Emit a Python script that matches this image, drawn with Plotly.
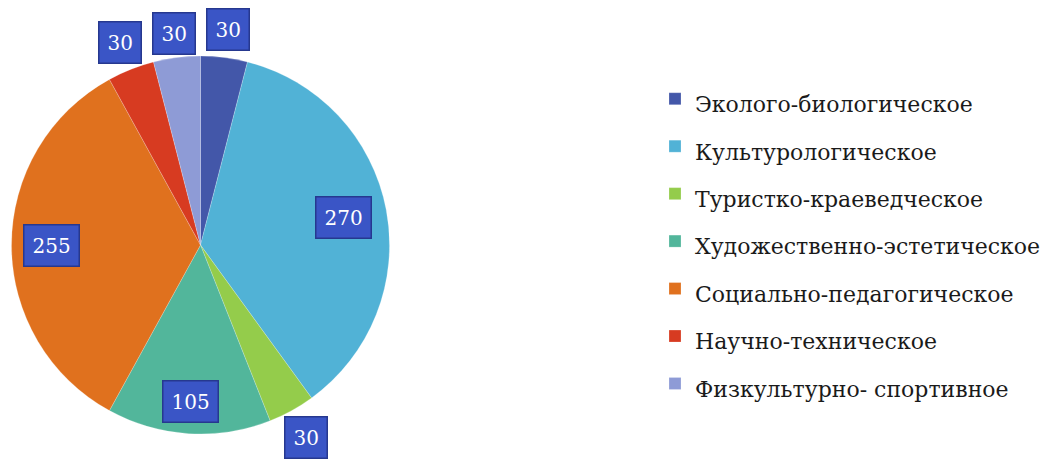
import math
import plotly.graph_objects as go

categories = ["Эколого-биологическое", "Культурологическое", "Туристко-краеведческое",
              "Художественно-эстетическое", "Социально-педагогическое",
              "Научно-техническое", "Физкультурно- спортивное"]
values = [30, 270, 30, 105, 255, 30, 30]
colors = ["#4357A9", "#51B2D6", "#94CC4B", "#52B69B", "#E0711E", "#D73B21", "#8E9BD6"]
label_radius = [1.15, 0.77, 1.16, 0.83, 0.79, 1.15, 1.13]

W, H = 1056, 459
cx, cy, R = 200.5, 245.0, 189.0

fig = go.Figure(go.Pie(
    labels=[f'<span style="font-size:22px">{c}</span>' for c in categories],
    values=values,
    sort=False,
    direction="clockwise",
    rotation=0,
    textinfo="none",
    hoverinfo="label+value",
    marker=dict(colors=colors, line=dict(color="rgba(255,255,255,0.35)", width=0.6)),
    domain=dict(x=[(cx - R) / W, (cx + R) / W], y=[1 - (cy + R) / H, 1 - (cy - R) / H]),
))

total = sum(values)
cum = 0
annotations = []
for v, f in zip(values, label_radius):
    mid = (cum + v / 2) / total * 2 * math.pi
    cum += v
    px = cx + R * f * math.sin(mid)
    py = cy - R * f * math.cos(mid)
    annotations.append(dict(
        x=px / W, y=1 - py / H, xref="paper", yref="paper",
        text=str(v), showarrow=False,
        font=dict(family="DejaVu Serif", size=20, color="white"),
        bgcolor="#3A55C6", bordercolor="#26388F", borderwidth=1.5, borderpad=8,
        xanchor="center", yanchor="middle",
    ))

fig.update_layout(
    width=W, height=H,
    margin=dict(l=0, r=0, t=0, b=0, autoexpand=False),
    paper_bgcolor="white",
    plot_bgcolor="white",
    annotations=annotations,
    legend=dict(
        x=655 / W, y=1 - 70 / H, xanchor="left", yanchor="top",
        font=dict(family="DejaVu Serif", size=34.2, color="#1a1a1a"),
        bgcolor="rgba(0,0,0,0)",
    ),
    showlegend=True,
)

fig.write_html("out.html", config={"displayModeBar": False},
               post_script="document.body.style.margin='0';document.body.style.overflow='hidden';")
